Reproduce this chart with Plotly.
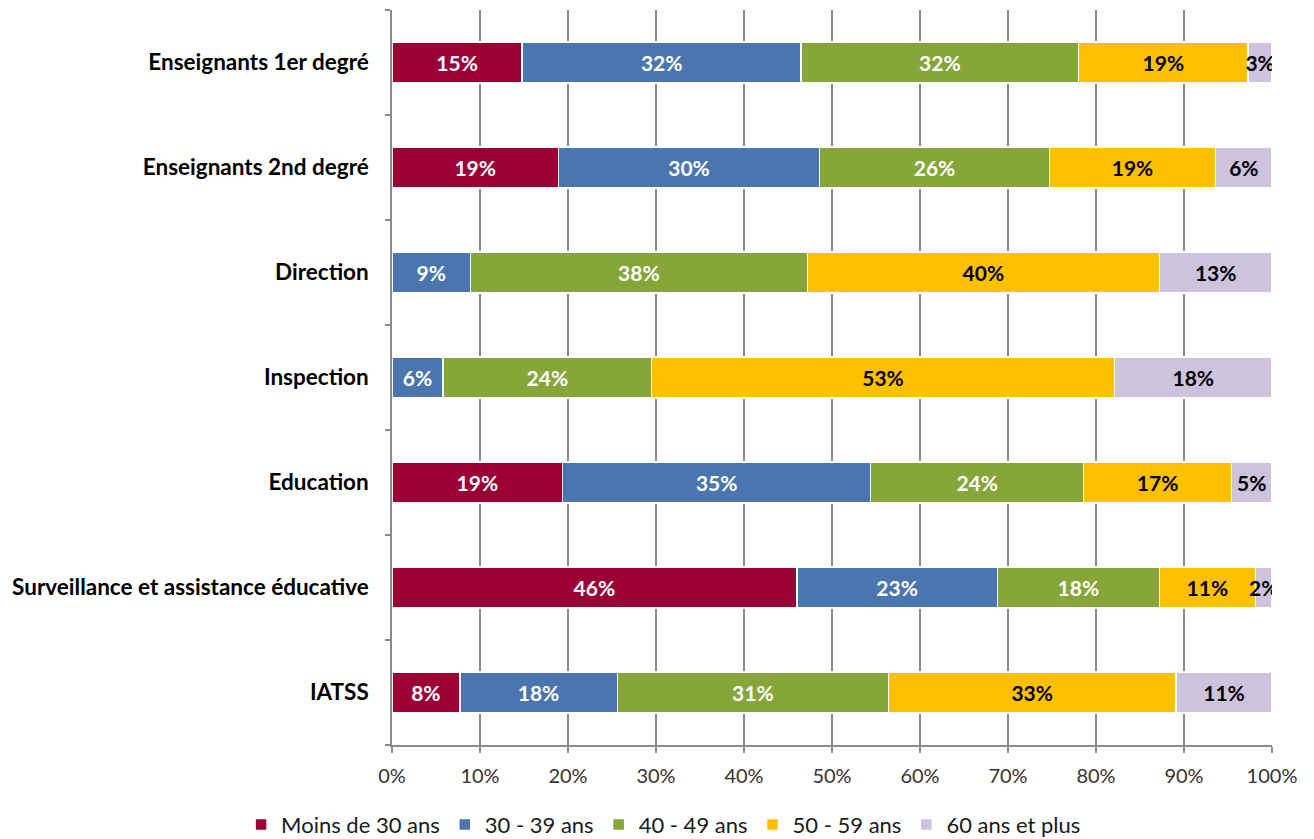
import plotly.graph_objects as go

categories = ["Enseignants 1er degré", "Enseignants 2nd degré", "Direction", "Inspection",
              "Education", "Surveillance et assistance éducative", "IATSS"]
series_names = ["Moins de 30 ans", "30 - 39 ans", "40 - 49 ans", "50 - 59 ans", "60 ans et plus"]

moins_30 = [14.8, 18.9, None, None, 19.4, 46.0, 7.7]
ans_30_39 = [31.7, 29.7, 8.9, 5.8, 35.0, 22.8, 17.9]
ans_40_49 = [31.5, 26.1, 38.3, 23.7, 24.2, 18.4, 30.8]
ans_50_59 = [19.3, 18.9, 40.0, 52.6, 16.8, 10.9, 32.7]
ans_60_plus = [2.7, 6.4, 12.8, 17.9, 4.6, 1.9, 10.9]

tick_vals = [0, 10, 20, 30, 40, 50, 60, 70, 80, 90, 100]
tick_text = ["0%", "10%", "20%", "30%", "40%", "50%", "60%", "70%", "80%", "90%", "100%"]

series_values = [moins_30, ans_30_39, ans_40_49, ans_50_59, ans_60_plus]
colors = ["#9A0036", "#4A75AE", "#86A63A", "#FFC000", "#CDC3DC"]
text_colors = ["white", "white", "white", "black", "black"]

FONT = "Lato, 'Open Sans', sans-serif"

fig = go.Figure()
for name, vals, col, tcol in zip(series_names, series_values, colors, text_colors):
    fig.add_trace(go.Bar(
        y=categories, x=vals, name=name, orientation="h",
        marker=dict(color=col, line=dict(color="white", width=1.5)),
        texttemplate="<b>%{x:.0f}%</b>", textposition="inside",
        insidetextanchor="middle", constraintext="none", textangle=0,
        textfont=dict(color=tcol, size=21, family=FONT),
        hoverinfo="skip",
    ))

fig.update_layout(
    barmode="stack",
    bargap=0.61,
    width=1314, height=839,
    margin=dict(l=392, r=42, t=10, b=94),
    plot_bgcolor="white", paper_bgcolor="white",
    font=dict(family=FONT, color="#222"),
    legend=dict(
        orientation="h", xref="container", yref="container",
        x=0.505, xanchor="center", y=0.017, yanchor="middle",
        font=dict(size=22, color="#1a1a1a", family=FONT),
        traceorder="normal", itemwidth=30,
    ),
    xaxis=dict(
        range=[0, 100], tickvals=tick_vals, ticktext=tick_text,
        showgrid=True, gridcolor="#8a8a8a", gridwidth=1.5,
        showline=True, linecolor="#8a8a8a", linewidth=1.5,
        ticks="outside", ticklen=6, tickcolor="#8a8a8a", tickwidth=1.5,
        tickfont=dict(size=20, color="#333", family=FONT),
        ticklabelstandoff=6,
        zeroline=False, fixedrange=True,
    ),
    yaxis=dict(
        categoryorder="array", categoryarray=categories, autorange="reversed",
        tickson="boundaries", ticks="outside", ticklen=5,
        tickcolor="#8a8a8a", tickwidth=1.5,
        showline=True, linecolor="#8a8a8a", linewidth=1.5,
        showgrid=False,
        tickfont=dict(size=22.5, color="black", family=FONT),
        ticklabelstandoff=17,
    ),
)

# bold category labels
fig.update_yaxes(ticktext=["<b>%s</b>" % c for c in categories], tickvals=categories)

fig.write_html("out.html", config={"displayModeBar": False},
               post_script="document.body.style.margin='0';")
